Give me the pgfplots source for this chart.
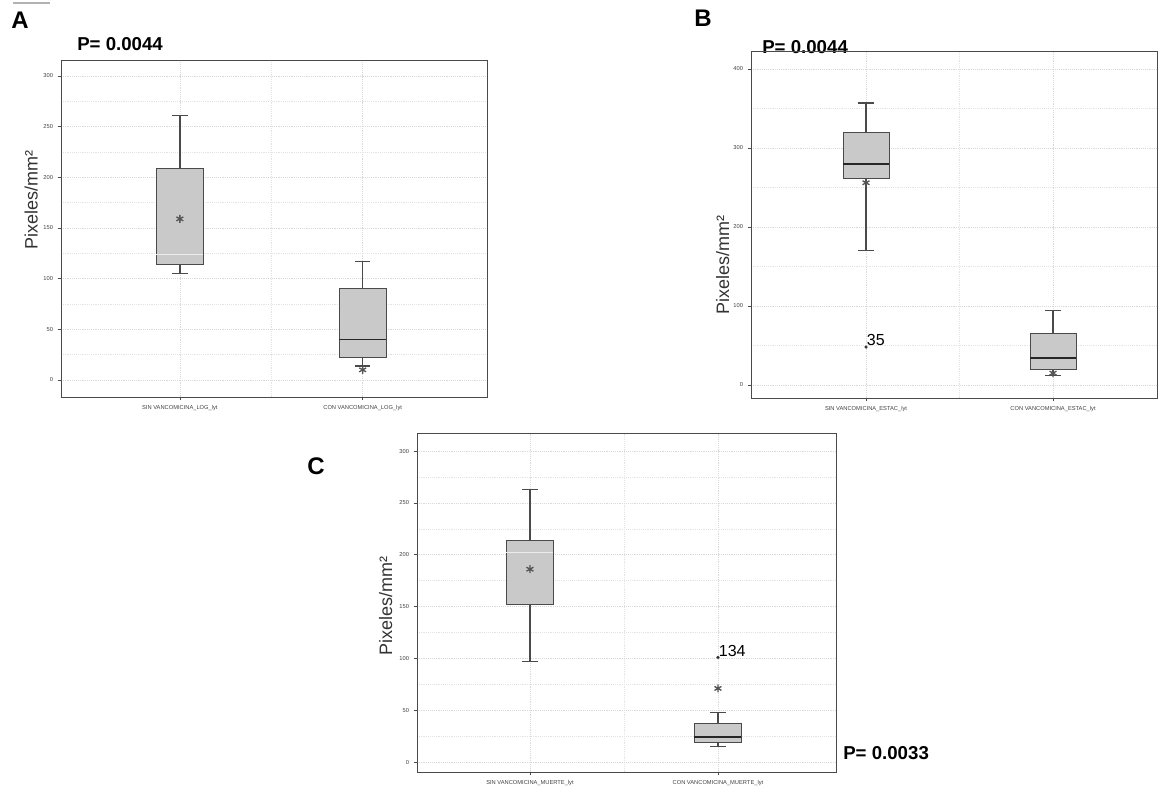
\documentclass[border=0pt]{standalone}
\usepackage{pgfplots}
\pgfplotsset{compat=1.18}
\usepgfplotslibrary{statistics}
\usepackage{fontspec}
\setmainfont{Liberation Sans}
\definecolor{boxfill}{HTML}{C9C9C9}
\definecolor{boxline}{HTML}{4A4A4A}
\definecolor{starc}{HTML}{555555}
\pgfplotsset{
  panel/.style={
    scale only axis, anchor=south west,
    axis line style={boxline, line width=0.6pt},
    xtick={1,2}, ytick pos=left, xtick pos=bottom,
    tick align=outside, major tick length=2.5pt, minor tick length=0pt,
    tick style={boxline, line width=0.5pt},
    tick label style={font=\fontsize{4.3}{5}\selectfont, text=black!75},
    /pgf/number format/assume math mode=true,
    ylabel={Pixeles/mm²},
    ylabel style={font=\fontsize{13.5}{15}\selectfont, text=black!80},
    grid=both, minor y tick num=1, minor x tick num=1,
    grid style={densely dotted, gray!30, line width=0.4pt},
    minor grid style={densely dotted, gray!22, line width=0.4pt},
    boxplot/draw direction=y,
    boxplot/whisker extend=0.085,
    boxplot/every box/.style={draw=boxline, fill=boxfill, line width=0.6pt},
    boxplot/every whisker/.style={draw=boxline, line width=1.1pt},
    boxplot/every median/.style={draw=black!85, line width=1.1pt},
    clip=false,
  },
}
\begin{document}
\begin{tikzpicture}
\useasboundingbox (0,0) rectangle (869.25pt,593.25pt);
\draw[gray!60, line width=0.8pt] (9.75pt,591pt) -- (37.5pt,591pt);
\node[font=\bfseries\fontsize{18}{20}\selectfont] at (15pt,578.25pt) {A};
\node[font=\bfseries\fontsize{18}{20}\selectfont] at (527.25pt,579.75pt) {B};
\node[font=\bfseries\fontsize{18}{20}\selectfont] at (237pt,243.75pt) {C};
\node[anchor=west, font=\bfseries\fontsize{14}{16}\selectfont, inner sep=0pt] at (57.75pt,560.25pt) {P= 0.0044};
\node[anchor=west, font=\bfseries\fontsize{14}{16}\selectfont, inner sep=0pt] at (571.5pt,558pt) {P= 0.0044};
\node[anchor=west, font=\bfseries\fontsize{14}{16}\selectfont, inner sep=0pt] at (632.25pt,28.5pt) {P= 0.0033};

% Panel A
\begin{axis}[panel, at={(45.75pt,295.5pt)}, width=319.5pt, height=252.75pt,
  xmin=0.35, xmax=2.68, ymin=-16.8, ymax=315.8,
  ytick={0,50,100,150,200,250,300},
  xticklabels={SIN VANCOMICINA\_LOG\_lyt, CON VANCOMICINA\_LOG\_lyt},
  ylabel style={at={(axis description cs:-0.07,0.585)}, anchor=center},
  boxplot/box extend=0.257]
\addplot+[boxplot prepared={lower whisker=105, lower quartile=114, median=124, upper quartile=209, upper whisker=261, draw position=1},
  boxplot/every median/.style={draw=white!85!gray, line width=1pt}, mark=none] coordinates {};
\addplot+[boxplot prepared={lower whisker=14, lower quartile=22, median=40, upper quartile=90, upper whisker=117, draw position=2}, mark=none] coordinates {};
\addplot[only marks, mark=asterisk, mark size=3pt, starc, line width=1pt] coordinates {(1,159) (2,10)};
\end{axis}

% Panel B
\begin{axis}[panel, at={(563.25pt,294.75pt)}, width=304.5pt, height=260.25pt,
  xmin=0.385, xmax=2.556, ymin=-16.5, ymax=422.8,
  ytick={0,100,200,300,400},
  xticklabels={SIN VANCOMICINA\_ESTAC\_lyt, CON VANCOMICINA\_ESTAC\_lyt},
  ylabel style={at={(axis description cs:-0.07,0.383)}, anchor=center},
  boxplot/box extend=0.246]
\addplot+[boxplot prepared={lower whisker=170, lower quartile=261, median=280, upper quartile=320, upper whisker=357, draw position=1}, mark=none] coordinates {};
\addplot+[boxplot prepared={lower whisker=12, lower quartile=20, median=34, upper quartile=65, upper whisker=94, draw position=2}, mark=none] coordinates {};
\addplot[only marks, mark=asterisk, mark size=3pt, starc, line width=1pt] coordinates {(1,256) (2,15)};
\addplot[only marks, mark=*, mark size=1pt, black!80] coordinates {(1,48)};
\node[anchor=south west, font=\fontsize{12}{13}\selectfont, inner sep=0.5pt] at (axis cs:1,48) {35};
\end{axis}

% Panel C
\begin{axis}[panel, at={(312.75pt,14.25pt)}, width=314.25pt, height=254.25pt,
  xmin=0.399, xmax=2.628, ymin=-9.6, ymax=317.4,
  ytick={0,50,100,150,200,250,300},
  xticklabels={SIN VANCOMICINA\_MUERTE\_lyt, CON VANCOMICINA\_MUERTE\_lyt},
  ylabel style={at={(axis description cs:-0.075,0.49)}, anchor=center},
  boxplot/box extend=0.25]
\addplot+[boxplot prepared={lower whisker=97, lower quartile=152, median=202, upper quartile=214, upper whisker=263, draw position=1},
  boxplot/every median/.style={draw=white!85!gray, line width=1pt}, mark=none] coordinates {};
\addplot+[boxplot prepared={lower whisker=15, lower quartile=19, median=24, upper quartile=37, upper whisker=48, draw position=2}, mark=none] coordinates {};
\addplot[only marks, mark=asterisk, mark size=3pt, starc, line width=1pt] coordinates {(1,186) (2,71)};
\addplot[only marks, mark=*, mark size=1pt, black!80] coordinates {(2,101)};
\node[anchor=south west, font=\fontsize{12}{13}\selectfont, inner sep=0.5pt] at (axis cs:2,101) {134};
\end{axis}
\end{tikzpicture}
\end{document}
